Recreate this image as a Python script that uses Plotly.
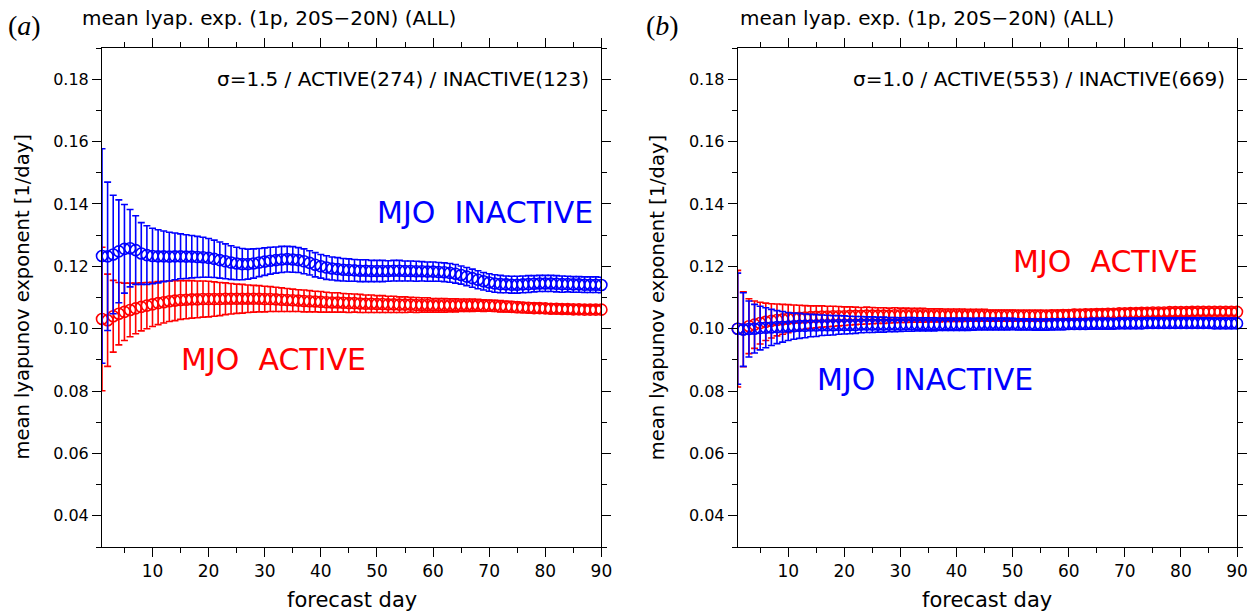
import plotly.graph_objects as go

days = list(range(1, 91))

# ---------- panel (a): sigma = 1.5 ----------
a_inactive_mean = [
    0.1233, 0.1232, 0.1238, 0.1248, 0.1256, 0.1258, 0.1252, 0.1241, 0.1236, 0.1233,
    0.1232, 0.1232, 0.1231, 0.1232, 0.1232, 0.1231, 0.1231, 0.1230, 0.1229, 0.1227,
    0.1224, 0.1220, 0.1216, 0.1212, 0.1209, 0.1207, 0.1207, 0.1209, 0.1212, 0.1215,
    0.1218, 0.1220, 0.1222, 0.1223, 0.1222, 0.1220, 0.1216, 0.1211, 0.1205, 0.1200,
    0.1196, 0.1193, 0.1191, 0.1189, 0.1188, 0.1187, 0.1186, 0.1186, 0.1185, 0.1185,
    0.1185, 0.1185, 0.1186, 0.1186, 0.1185, 0.1185, 0.1184, 0.1184, 0.1183, 0.1183,
    0.1182, 0.1181, 0.1179, 0.1176, 0.1172, 0.1167, 0.1162, 0.1157, 0.1152, 0.1148,
    0.1145, 0.1143, 0.1142, 0.1141, 0.1141, 0.1142, 0.1143, 0.1144, 0.1145, 0.1145,
    0.1145, 0.1144, 0.1143, 0.1143, 0.1142, 0.1142, 0.1141, 0.1141, 0.1141, 0.1140,
]
a_inactive_err = [
    0.0344, 0.0238, 0.0190, 0.0165, 0.0142, 0.0124, 0.0110, 0.0099, 0.0094, 0.0089,
    0.0085, 0.0081, 0.0078, 0.0075, 0.0072, 0.0070, 0.0068, 0.0066, 0.0064, 0.0062,
    0.0060, 0.0058, 0.0056, 0.0054, 0.0052, 0.0050, 0.0048, 0.0047, 0.0045, 0.0044,
    0.0043, 0.0042, 0.0042, 0.0041, 0.0041, 0.0040, 0.0040, 0.0039, 0.0039, 0.0038,
    0.0038, 0.0037, 0.0037, 0.0036, 0.0036, 0.0035, 0.0035, 0.0035, 0.0034, 0.0034,
    0.0034, 0.0033, 0.0033, 0.0033, 0.0032, 0.0032, 0.0032, 0.0031, 0.0031, 0.0031,
    0.0030, 0.0030, 0.0030, 0.0030, 0.0029, 0.0029, 0.0029, 0.0029, 0.0028, 0.0028,
    0.0028, 0.0028, 0.0027, 0.0027, 0.0027, 0.0027, 0.0027, 0.0026, 0.0026, 0.0026,
    0.0026, 0.0026, 0.0026, 0.0025, 0.0025, 0.0025, 0.0025, 0.0025, 0.0025, 0.0025,
]
a_active_mean = [
    0.1031, 0.1027, 0.1040, 0.1048, 0.1054, 0.1060, 0.1065, 0.1070, 0.1074, 0.1078,
    0.1082, 0.1085, 0.1088, 0.1090, 0.1092, 0.1093, 0.1094, 0.1094, 0.1095, 0.1095,
    0.1095, 0.1095, 0.1096, 0.1096, 0.1096, 0.1096, 0.1096, 0.1096, 0.1096, 0.1095,
    0.1095, 0.1094, 0.1093, 0.1092, 0.1091, 0.1090, 0.1089, 0.1088, 0.1087, 0.1086,
    0.1085, 0.1084, 0.1084, 0.1083, 0.1082, 0.1082, 0.1081, 0.1080, 0.1080, 0.1079,
    0.1079, 0.1078, 0.1078, 0.1077, 0.1077, 0.1077, 0.1076, 0.1076, 0.1076, 0.1075,
    0.1075, 0.1075, 0.1075, 0.1075, 0.1075, 0.1075, 0.1075, 0.1075, 0.1074, 0.1074,
    0.1073, 0.1072, 0.1071, 0.1070, 0.1069, 0.1068, 0.1067, 0.1066, 0.1066, 0.1065,
    0.1064, 0.1064, 0.1063, 0.1063, 0.1062, 0.1062, 0.1061, 0.1061, 0.1061, 0.1061,
]
a_active_err = [
    0.0230, 0.0148, 0.0115, 0.0100, 0.0092, 0.0086, 0.0081, 0.0077, 0.0074, 0.0071,
    0.0069, 0.0067, 0.0065, 0.0064, 0.0062, 0.0061, 0.0060, 0.0059, 0.0058, 0.0057,
    0.0055, 0.0053, 0.0051, 0.0049, 0.0047, 0.0046, 0.0044, 0.0043, 0.0042, 0.0041,
    0.0040, 0.0039, 0.0038, 0.0037, 0.0036, 0.0035, 0.0035, 0.0034, 0.0033, 0.0033,
    0.0032, 0.0031, 0.0031, 0.0030, 0.0030, 0.0029, 0.0029, 0.0028, 0.0028, 0.0027,
    0.0027, 0.0026, 0.0026, 0.0025, 0.0025, 0.0024, 0.0024, 0.0023, 0.0023, 0.0022,
    0.0022, 0.0022, 0.0021, 0.0021, 0.0020, 0.0020, 0.0020, 0.0019, 0.0019, 0.0018,
    0.0018, 0.0018, 0.0017, 0.0017, 0.0017, 0.0016, 0.0016, 0.0016, 0.0015, 0.0015,
    0.0015, 0.0015, 0.0014, 0.0014, 0.0014, 0.0014, 0.0013, 0.0013, 0.0013, 0.0013,
]

# ---------- panel (b): sigma = 1.0 ----------
b_active_mean = [
    0.1000, 0.0998, 0.1008, 0.1013, 0.1018, 0.1022, 0.1025, 0.1028, 0.1030, 0.1032,
    0.1034, 0.1035, 0.1036, 0.1037, 0.1038, 0.1039, 0.1039, 0.1040, 0.1040, 0.1040,
    0.1041, 0.1041, 0.1041, 0.1042, 0.1042, 0.1042, 0.1042, 0.1042, 0.1043, 0.1043,
    0.1043, 0.1043, 0.1043, 0.1043, 0.1043, 0.1043, 0.1043, 0.1043, 0.1043, 0.1043,
    0.1043, 0.1043, 0.1043, 0.1043, 0.1043, 0.1042, 0.1042, 0.1042, 0.1042, 0.1042,
    0.1042, 0.1042, 0.1042, 0.1042, 0.1042, 0.1042, 0.1043, 0.1043, 0.1044, 0.1044,
    0.1045, 0.1045, 0.1046, 0.1046, 0.1047, 0.1047, 0.1048, 0.1048, 0.1049, 0.1049,
    0.1050, 0.1050, 0.1051, 0.1051, 0.1052, 0.1052, 0.1052, 0.1053, 0.1053, 0.1053,
    0.1053, 0.1054, 0.1054, 0.1054, 0.1054, 0.1054, 0.1054, 0.1054, 0.1054, 0.1054,
]
b_active_err = [
    0.0187, 0.0120, 0.0088, 0.0076, 0.0067, 0.0060, 0.0055, 0.0051, 0.0048, 0.0045,
    0.0042, 0.0040, 0.0038, 0.0036, 0.0035, 0.0034, 0.0033, 0.0032, 0.0031, 0.0030,
    0.0029, 0.0028, 0.0027, 0.0027, 0.0026, 0.0025, 0.0025, 0.0024, 0.0024, 0.0023,
    0.0023, 0.0022, 0.0022, 0.0022, 0.0021, 0.0021, 0.0021, 0.0020, 0.0020, 0.0020,
    0.0020, 0.0019, 0.0019, 0.0019, 0.0019, 0.0018, 0.0018, 0.0018, 0.0018, 0.0018,
    0.0017, 0.0017, 0.0017, 0.0017, 0.0017, 0.0016, 0.0016, 0.0016, 0.0016, 0.0016,
    0.0016, 0.0015, 0.0015, 0.0015, 0.0015, 0.0015, 0.0015, 0.0014, 0.0014, 0.0014,
    0.0014, 0.0014, 0.0014, 0.0014, 0.0013, 0.0013, 0.0013, 0.0013, 0.0013, 0.0013,
    0.0013, 0.0013, 0.0012, 0.0012, 0.0012, 0.0012, 0.0012, 0.0012, 0.0012, 0.0012,
]
b_inactive_mean = [
    0.1000, 0.0997, 0.0999, 0.1000, 0.1002, 0.1003, 0.1004, 0.1005, 0.1006, 0.1007,
    0.1008, 0.1009, 0.1009, 0.1010, 0.1010, 0.1011, 0.1011, 0.1011, 0.1012, 0.1012,
    0.1012, 0.1012, 0.1013, 0.1013, 0.1013, 0.1013, 0.1013, 0.1013, 0.1013, 0.1013,
    0.1014, 0.1014, 0.1014, 0.1014, 0.1014, 0.1014, 0.1014, 0.1014, 0.1014, 0.1014,
    0.1014, 0.1014, 0.1014, 0.1015, 0.1015, 0.1015, 0.1015, 0.1015, 0.1015, 0.1015,
    0.1014, 0.1014, 0.1014, 0.1013, 0.1013, 0.1013, 0.1014, 0.1014, 0.1014, 0.1015,
    0.1015, 0.1015, 0.1015, 0.1016, 0.1016, 0.1016, 0.1016, 0.1016, 0.1017, 0.1017,
    0.1017, 0.1017, 0.1017, 0.1018, 0.1018, 0.1018, 0.1018, 0.1018, 0.1018, 0.1018,
    0.1018, 0.1018, 0.1018, 0.1018, 0.1018, 0.1017, 0.1017, 0.1017, 0.1017, 0.1017,
]
b_inactive_err = [
    0.0178, 0.0118, 0.0090, 0.0078, 0.0070, 0.0064, 0.0058, 0.0053, 0.0049, 0.0045,
    0.0042, 0.0040, 0.0038, 0.0036, 0.0035, 0.0033, 0.0032, 0.0031, 0.0030, 0.0029,
    0.0028, 0.0027, 0.0026, 0.0025, 0.0025, 0.0024, 0.0024, 0.0023, 0.0023, 0.0022,
    0.0022, 0.0022, 0.0021, 0.0021, 0.0021, 0.0021, 0.0020, 0.0020, 0.0020, 0.0020,
    0.0020, 0.0020, 0.0019, 0.0019, 0.0019, 0.0019, 0.0019, 0.0019, 0.0019, 0.0018,
    0.0018, 0.0018, 0.0018, 0.0018, 0.0018, 0.0018, 0.0018, 0.0017, 0.0017, 0.0017,
    0.0017, 0.0017, 0.0017, 0.0017, 0.0017, 0.0017, 0.0017, 0.0016, 0.0016, 0.0016,
    0.0016, 0.0016, 0.0016, 0.0016, 0.0016, 0.0016, 0.0016, 0.0016, 0.0016, 0.0016,
    0.0016, 0.0016, 0.0016, 0.0016, 0.0016, 0.0016, 0.0016, 0.0016, 0.0016, 0.0016,
]

x_tickvals = [10, 20, 30, 40, 50, 60, 70, 80, 90]
y_tickvals = [0.04, 0.06, 0.08, 0.10, 0.12, 0.14, 0.16, 0.18]
y_ticktext = ["0.04", "0.06", "0.08", "0.10", "0.12", "0.14", "0.16", "0.18"]

panel_titles = ["mean lyap. exp. (1p, 20S\u221220N) (ALL)", "mean lyap. exp. (1p, 20S\u221220N) (ALL)"]
panel_letters = ["(<i>a</i>)", "(<i>b</i>)"]
sigma_texts = ["\u03c3=1.5 / ACTIVE(274) / INACTIVE(123)",
               "\u03c3=1.0 / ACTIVE(553) / INACTIVE(669)"]

RED = "#ff0000"
BLUE = "#0000ff"
FONT = "DejaVu Sans"


def series(x, y, err, color, xa, ya):
    return go.Scatter(
        x=x, y=y, xaxis=xa, yaxis=ya, mode="markers", showlegend=False,
        marker=dict(symbol="circle-open", size=11, color=color,
                    line=dict(width=1.6, color=color)),
        error_y=dict(type="data", array=err, visible=True, color=color,
                     thickness=1.6, width=3.5),
        cliponaxis=False,
    )


fig = go.Figure()
fig.add_trace(series(days, a_active_mean, a_active_err, RED, "x", "y"))
fig.add_trace(series(days, a_inactive_mean, a_inactive_err, BLUE, "x", "y"))
fig.add_trace(series(days, b_active_mean, b_active_err, RED, "x2", "y2"))
fig.add_trace(series(days, b_inactive_mean, b_inactive_err, BLUE, "x2", "y2"))

common_x = dict(
    range=[1, 90], tickmode="array", tickvals=x_tickvals,
    ticks="outside", ticklen=9, tickwidth=1, tickcolor="black",
    showline=True, linecolor="black", linewidth=1, mirror="ticks",
    showgrid=False, zeroline=False,
    tickfont=dict(family=FONT, size=17, color="black"),
    minor=dict(ticks="outside", ticklen=5, tickwidth=1, tickcolor="black",
               tick0=0, dtick=5, showgrid=False),
)
common_y = dict(
    range=[0.03, 0.19], tickmode="array", tickvals=y_tickvals, ticktext=y_ticktext,
    ticks="outside", ticklen=9, tickwidth=1, tickcolor="black",
    showline=True, linecolor="black", linewidth=1, mirror="ticks",
    showgrid=False, zeroline=False,
    tickfont=dict(family=FONT, size=16, color="black"),
    minor=dict(ticks="outside", ticklen=5, tickwidth=1, tickcolor="black",
               tick0=0.03, dtick=0.01, showgrid=False),
)

fig.update_layout(
    width=1260, height=615,
    margin=dict(l=102, r=23, t=48, b=68),
    paper_bgcolor="white", plot_bgcolor="white",
    xaxis=dict(domain=[0, 0.44], anchor="y", **common_x),
    yaxis=dict(domain=[0, 1], anchor="x", **common_y),
    xaxis2=dict(domain=[0.5601, 1], anchor="y2", **common_x),
    yaxis2=dict(domain=[0, 1], anchor="x2", **common_y),
)

annotations = []
for i, (xa, ya) in enumerate([("x", "y"), ("x2", "y2")]):
    dom = xa + " domain"
    ydom = ya + " domain"
    # panel letter
    annotations.append(dict(text=panel_letters[i], xref=dom, yref=ydom, x=0, y=1,
                            xanchor="center", yanchor="middle",
                            xshift=-78 if i == 0 else -75, yshift=23, showarrow=False,
                            font=dict(family="Liberation Serif", size=28, color="black")))
    # panel title
    annotations.append(dict(text=panel_titles[i], xref=dom, yref=ydom, x=0, y=1,
                            xanchor="left", yanchor="middle",
                            xshift=-22 if i == 0 else 0, yshift=30, showarrow=False,
                            font=dict(family=FONT, size=20, color="black")))
    # sigma annotation
    annotations.append(dict(text=sigma_texts[i], xref=dom, yref=ya, x=1, y=0.18,
                            xanchor="right", yanchor="middle", xshift=-10,
                            showarrow=False,
                            font=dict(family=FONT, size=20, color="black")))
    # axis titles
    annotations.append(dict(text="mean lyapunov exponent [1/day]", xref=dom, yref=ydom,
                            x=0, y=0.5, xanchor="center", yanchor="middle", xshift=-80,
                            textangle=-90, showarrow=False,
                            font=dict(family=FONT, size=19.5, color="black")))
    annotations.append(dict(text="forecast day", xref=dom, yref=ydom,
                            x=0.5, y=0, xanchor="center", yanchor="middle", yshift=-53,
                            showarrow=False,
                            font=dict(family=FONT, size=21, color="black")))

# series labels
annotations.append(dict(text="MJO  INACTIVE", xref="x", yref="y", x=69.2, y=0.1372,
                        xanchor="center", yanchor="middle", showarrow=False,
                        font=dict(family=FONT, size=30, color=BLUE)))
annotations.append(dict(text="MJO  ACTIVE", xref="x", yref="y", x=31.5, y=0.0901,
                        xanchor="center", yanchor="middle", showarrow=False,
                        font=dict(family=FONT, size=30, color=RED)))
annotations.append(dict(text="MJO  ACTIVE", xref="x2", yref="y2", x=66.6, y=0.1215,
                        xanchor="center", yanchor="middle", showarrow=False,
                        font=dict(family=FONT, size=30, color=RED)))
annotations.append(dict(text="MJO  INACTIVE", xref="x2", yref="y2", x=34.4, y=0.0837,
                        xanchor="center", yanchor="middle", showarrow=False,
                        font=dict(family=FONT, size=30, color=BLUE)))

fig.update_layout(annotations=annotations)
fig.write_html("out.html", config={"displayModeBar": False},
               post_script="document.body.style.margin='0';document.body.style.overflow='hidden';")
